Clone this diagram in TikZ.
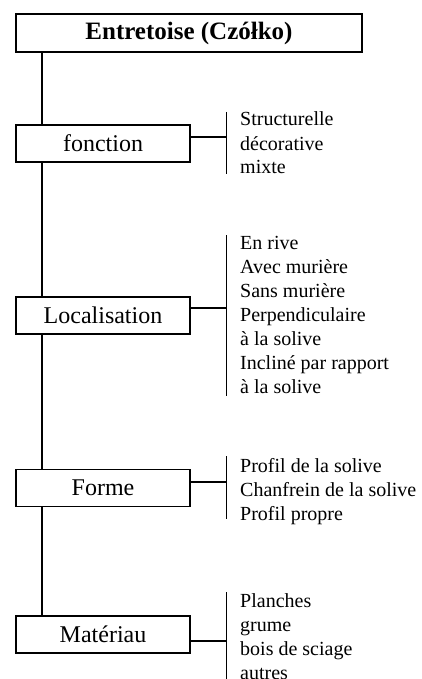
\documentclass[tikz,border=0pt]{standalone}
\usepackage{fontspec}
\setmainfont{Liberation Serif}
\usetikzlibrary{backgrounds}
\begin{document}
\begin{tikzpicture}[x=1pt,y=-1pt,
  box/.style={draw,line width=1.6pt,fill=white,minimum width=174pt,minimum height=37pt,inner sep=0pt,font=\fontsize{24}{28}\selectfont},
  titlebox/.style={box,minimum width=346pt,minimum height=38pt,font=\fontsize{25}{28}\selectfont\bfseries},
  items/.style={anchor=base west,inner sep=0pt,align=left,font=\fontsize{20}{24}\selectfont},
  conn/.style={line width=1.6pt}]
\useasboundingbox (0,0) rectangle (421,679);
\node[titlebox] (title) at (189,33) {Entretoise (Czółko)};
\node[box] (fonction) at (103,143.5) {fonction};
\node[box] (local) at (103,315.5) {Localisation};
\node[box] (forme) at (103,488) {Forme};
\node[box] (mat) at (103,634.5) {Matériau};
\coordinate (trunk) at (42,0);
\begin{scope}[on background layer]
\draw[conn] (title.south -| trunk) -- (mat.north -| trunk);
\end{scope}
% brackets
\coordinate (b1t) at (226.5,112); \coordinate (b1b) at (226.5,174); \coordinate (b1) at (226.5,137);
\coordinate (b2t) at (226.5,235); \coordinate (b2b) at (226.5,396); \coordinate (b2) at (226.5,308);
\coordinate (b3t) at (226.5,456); \coordinate (b3b) at (226.5,519); \coordinate (b3) at (226.5,482);
\coordinate (b4t) at (226.5,592); \coordinate (b4b) at (226.5,682); \coordinate (b4) at (226.5,641);
\draw[conn] (b1t) -- (b1b); \draw[conn] (b1 -| fonction.east) -- (b1);
\draw[conn] (b2t) -- (b2b); \draw[conn] (b2 -| local.east) -- (b2);
\draw[conn] (b3t) -- (b3b); \draw[conn] (b3 -| forme.east) -- (b3);
\draw[conn] (b4t) -- (b4b); \draw[conn] (b4 -| mat.east) -- (b4);
\node[items] (t1) at (240,174) {Structurelle\\décorative\\mixte};
\node[items] (t2) at (240,393) {En rive\\Avec murière\\Sans murière\\Perpendiculaire\\à la solive\\Incliné par rapport\\à la solive};
\node[items] (t3) at (240,520) {Profil de la solive\\Chanfrein de la solive\\Profil propre};
\node[items] (t4) at (240,679) {Planches\\grume\\bois de sciage\\autres};
\end{tikzpicture}
\end{document}
